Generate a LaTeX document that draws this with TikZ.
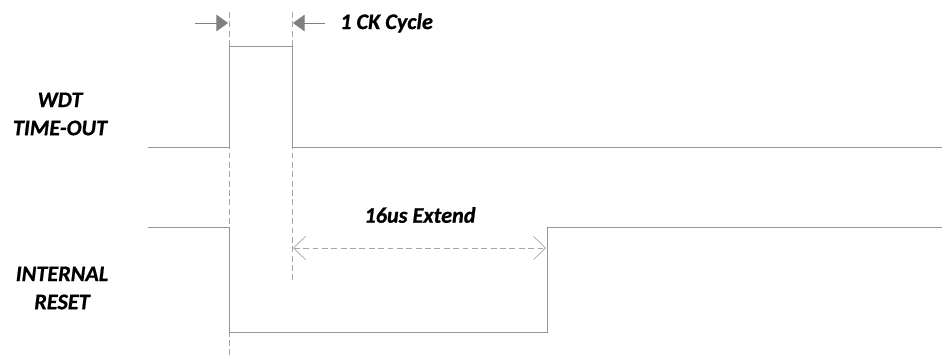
\documentclass[tikz,border=0pt]{standalone}
\usepackage{fontspec}
\setmainfont{Carlito}[BoldFont={Carlito Bold},ItalicFont={Carlito Italic},BoldItalicFont={Carlito Bold Italic},BoldItalicFeatures={FakeBold=0.8}]
\usetikzlibrary{arrows.meta}
\definecolor{sig}{RGB}{150,150,150}
\definecolor{guide}{RGB}{165,165,165}
\definecolor{tipgray}{RGB}{128,128,128}
\tikzset{
  sigline/.style={draw=sig, line width=0.8pt},
  guideline/.style={draw=guide, line width=0.8pt, dash pattern=on 5pt off 3pt},
  ckarrow/.style={draw=tipgray, fill=tipgray, line width=0.8pt, -{Triangle[length=3.5mm,width=5mm]}},
  extarrow/.style={guideline, {Straight Barb[length=3.6mm,width=7mm,line width=0.6pt]}-{Straight Barb[length=3.6mm,width=7mm,line width=0.6pt]}},
  lbl/.style={font=\fontsize{19}{24}\selectfont\bfseries\itshape, align=center, inner sep=0pt}
}
\begin{document}
\begin{tikzpicture}[x=0.03cm,y=-0.03cm]
\useasboundingbox (0,0) rectangle (944,360);
% guide lines
\draw[guideline] (229,12) -- (229,356);
\draw[guideline] (292,12) -- (292,280);
% WDT time-out
\draw[sigline] (148,147) -- (229,147) -- (229,46) -- (292,46) -- (292,147) -- (942,147);
% internal reset
\draw[sigline] (148,227) -- (229,227) -- (229,332) -- (547,332) -- (547,227) -- (942,227);
% 1 CK cycle
\coordinate (ckla) at (195,23);
\coordinate (cklb) at (228,23);
\coordinate (ckra) at (325,23);
\coordinate (ckrb) at (293,23);
\draw[ckarrow] (ckla) -- (cklb);
\draw[ckarrow] (ckra) -- (ckrb);
\node[lbl,anchor=west] (ck) at (340,23) {1 CK Cycle};
% 16us extend
\coordinate (exta) at (293,248);
\coordinate (extb) at (546,248);
\draw[extarrow] (exta) -- (extb);
\node[lbl] (ext) at (420,215) {16us Extend};
% signal names
\node[lbl] (wdt) at (60,114) {WDT\\TIME-OUT};
\node[lbl] (rst) at (62,288) {INTERNAL\\RESET};
\end{tikzpicture}
\end{document}
